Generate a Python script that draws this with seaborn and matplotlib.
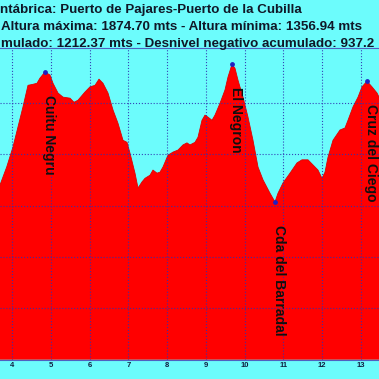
import matplotlib
matplotlib.use('Agg')
import matplotlib.pyplot as plt
import pandas as pd
import seaborn as sns

# profile (km, metres)
km = [3.691, 3.864, 4.026, 4.155, 4.284, 4.413, 4.542, 4.645, 4.722, 4.851,
      4.980, 5.058, 5.187, 5.316, 5.496, 5.599, 5.702, 5.883, 6.012, 6.141,
      6.244, 6.347, 6.476, 6.605, 6.734, 6.863, 6.966, 7.043, 7.172, 7.250,
      7.353, 7.430, 7.559, 7.636, 7.740, 7.817, 7.894, 8.023, 8.152, 8.281,
      8.410, 8.513, 8.590, 8.719, 8.797, 8.900, 8.977, 9.055, 9.158, 9.235,
      9.364, 9.493, 9.570, 9.674, 9.751, 9.828, 9.957, 10.086, 10.215, 10.344,
      10.473, 10.653, 10.782, 10.860, 10.989, 11.169, 11.350, 11.478, 11.633, 11.762,
      11.891, 11.994, 12.072, 12.149, 12.278, 12.458, 12.587, 12.665, 12.794, 12.923,
      13.026, 13.155, 13.284, 13.413, 13.490]
alt = [1640, 1675, 1714, 1753, 1792, 1834, 1836, 1838, 1848, 1860,
       1854, 1838, 1819, 1811, 1809, 1801, 1805, 1821, 1831, 1834,
       1846, 1838, 1819, 1786, 1760, 1727, 1723, 1702, 1663, 1634,
       1646, 1653, 1659, 1669, 1663, 1665, 1675, 1698, 1704, 1708,
       1718, 1722, 1718, 1723, 1733, 1766, 1776, 1772, 1766, 1776,
       1799, 1825, 1850, 1875, 1867, 1844, 1811, 1772, 1727, 1675,
       1650, 1624, 1607, 1624, 1644, 1663, 1683, 1689, 1689, 1679,
       1669, 1653, 1665, 1694, 1727, 1747, 1751, 1766, 1792, 1811,
       1831, 1842, 1831, 1819, 1807]

wp_names = ['Cuitu Negru', 'El Negron', 'Cda del Barradal', 'Cruz del Ciego']
wp_km = [4.851, 9.674, 10.782, 13.155]
wp_alt = [1860, 1875, 1607, 1842]

titulo = ['ntábrica: Puerto de Pajares-Puerto de la Cubilla',
          'Altura máxima: 1874.70 mts - Altura mínima: 1356.94 mts',
          'mulado: 1212.37 mts - Desnivel negativo acumulado: 937.2']
titulo_x = [0, 1, 1]
km_ticks = [4, 5, 6, 7, 8, 9, 10, 11, 12, 13]

fondo = '#6cfcfc'
sns.set_style('white')
plt.rcParams['font.family'] = ['Liberation Sans', 'DejaVu Sans']

fig = plt.figure(figsize=(3.79, 3.79), dpi=100, facecolor=fondo)
ax = fig.add_axes([0, 0.051, 1, 0.822])
ax.set_facecolor(fondo)

d = pd.DataFrame({'km': km, 'alt': alt})
ax.fill_between(d['km'], d['alt'], 1300, color='#ff0000', lw=0, zorder=1)
sns.lineplot(data=d, x='km', y='alt', ax=ax, color='#e00000', lw=0.6, zorder=2)

ax.set_xlim(3.691, 13.464)
ax.set_ylim(1300, 1906.4)
ax.set_xticks(km_ticks)
ax.set_yticks([1400, 1500, 1600, 1700, 1800])
ax.set_yticklabels([])
ax.grid(True, color='#3030b0', ls=':', lw=0.8, alpha=0.9)
ax.set_axisbelow(False)
ax.tick_params(axis='x', length=0, pad=2, labelsize=5.5, labelcolor='#102040')
for lab in ax.get_xticklabels():
    lab.set_fontweight('bold')
ax.tick_params(axis='y', length=0)
ax.set_xlabel('')
ax.set_ylabel('')
for s in ['left', 'right']:
    ax.spines[s].set_visible(False)
for s in ['top', 'bottom']:
    ax.spines[s].set_color('#5060c0')
    ax.spines[s].set_linewidth(0.8)

ax.scatter(wp_km, wp_alt, s=6, color='#2020c0', zorder=4)
for n, x, y in zip(wp_names, wp_km, wp_alt):
    ax.annotate(n, (x, y), xytext=(3.2, -16.5), textcoords='offset points',
                rotation=270, ha='center', va='top', fontsize=10,
                fontweight='bold', color='#101010', zorder=5)

for i, t in enumerate(titulo):
    fig.text(titulo_x[i] / 379, 1 - (13.5 + 17 * i) / 379, t, ha='left',
             va='baseline', fontsize=9.6, fontweight='bold', color='#101828')

fig.savefig('out.png', dpi=100, facecolor=fondo)
